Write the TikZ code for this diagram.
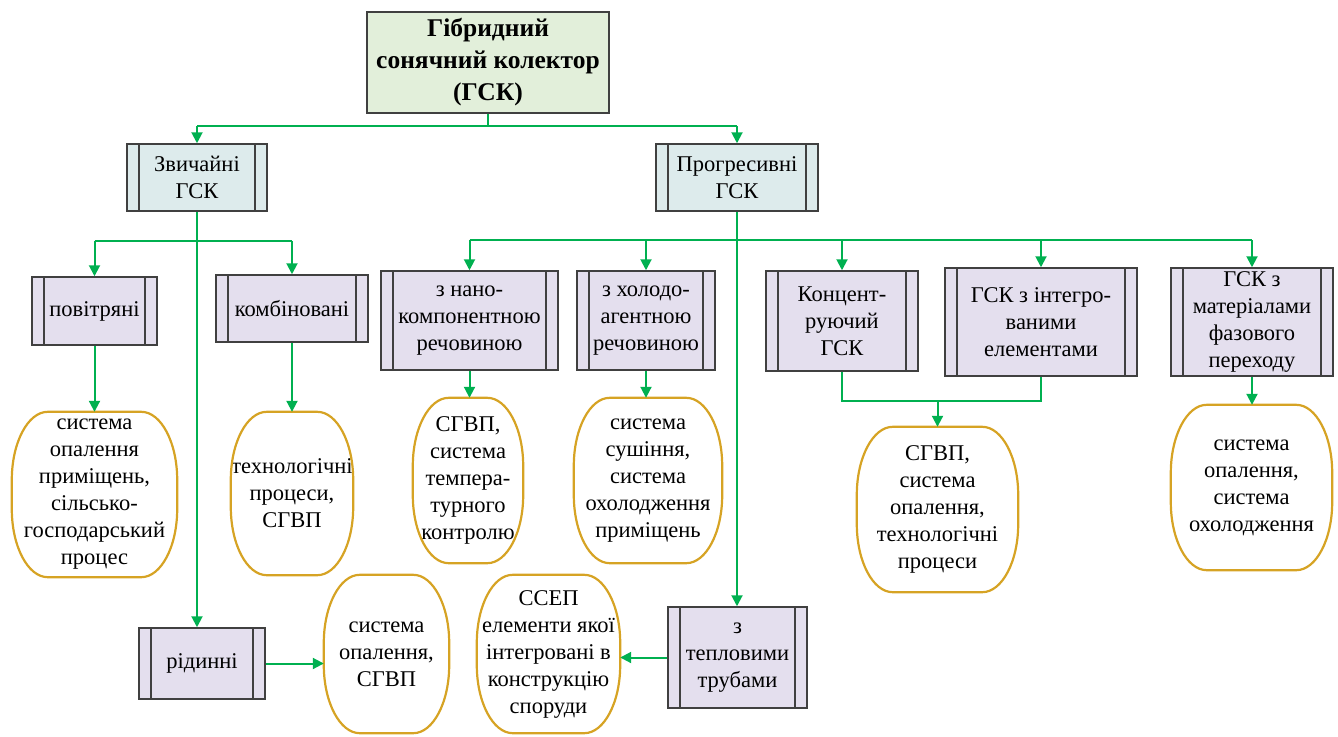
\documentclass[tikz,border=0pt]{standalone}
\usepackage{fontspec}
\setmainfont{Liberation Serif}
\usetikzlibrary{arrows.meta}
\definecolor{gline}{RGB}{0,176,80}
\definecolor{lav}{RGB}{228,223,238}
\definecolor{mainfill}{RGB}{226,239,218}
\definecolor{bluegrey}{RGB}{221,235,236}
\definecolor{bdr}{RGB}{64,64,64}
\definecolor{gold}{RGB}{214,163,36}
\tikzset{
  ln/.style={draw=gline, line width=2pt},
  arr/.style={ln, -{Triangle[length=11pt,width=11pt]}},
  boxtext/.style={font=\fontsize{22.5}{27}\selectfont, align=center, inner sep=0pt},
  box/.style={boxtext, draw=bdr, line width=1.5pt, fill=lav,
    path picture={
      \draw[bdr, line width=1.3pt] ([xshift=12pt]path picture bounding box.north west) -- ([xshift=12pt]path picture bounding box.south west);
      \draw[bdr, line width=1.3pt] ([xshift=-12pt]path picture bounding box.north east) -- ([xshift=-12pt]path picture bounding box.south east);
    }},
  gbox/.style={box, fill=bluegrey},
  mainbox/.style={draw=bdr, line width=1.5pt, fill=mainfill, align=center, inner sep=0pt,
    font=\fontsize{25.5}{32}\selectfont\bfseries},
  ovtext/.style={boxtext},
  ovline/.style={draw=gold, line width=2.2pt, line join=round}
}
\newcommand{\ovalframe}[1]{%
  \draw[ovline] ([xshift=36pt]#1.north west) -- ([xshift=-36pt]#1.north east)
    .. controls +(20pt,0) and +(0,37pt) .. ([yshift=-68pt]#1.north east)
    -- ([yshift=68pt]#1.south east)
    .. controls +(0,-37pt) and +(20pt,0) .. ([xshift=-36pt]#1.south east)
    -- ([xshift=36pt]#1.south west)
    .. controls +(-20pt,0) and +(0,-37pt) .. ([yshift=68pt]#1.south west)
    -- ([yshift=-68pt]#1.north west)
    .. controls +(0,37pt) and +(-20pt,0) .. ([xshift=36pt]#1.north west) -- cycle;}
\begin{document}
\begin{tikzpicture}[x=1pt,y=-1pt]
\useasboundingbox (0,0) rectangle (1338,736);

% top
\node[mainbox, minimum width=242pt, minimum height=101pt] (main) at (488,62.5) {Гібридний\\сонячний колектор\\(ГСК)};
\node[gbox, minimum width=140pt, minimum height=67pt] (zv) at (197,177.5) {Звичайні\\ГСК};
\node[gbox, minimum width=162pt, minimum height=67pt] (pr) at (737,177.5) {Прогресивні\\ГСК};

% second level
\node[box, minimum width=125pt, minimum height=68pt] (pov) at (94.5,311) {повітряні};
\node[box, minimum width=152pt, minimum height=67pt] (komb) at (292,308.5) {комбіновані};
\node[box, minimum width=177pt, minimum height=99pt] (nano) at (469.5,320.5) {з нано-\\компонентною\\речовиною};
\node[box, minimum width=138pt, minimum height=99pt] (xol) at (646,320.5) {з холодо-\\агентною\\речовиною};
\node[box, minimum width=152pt, minimum height=100pt] (konc) at (842,321) {Концент-\\руючий\\ГСК};
\node[box, minimum width=192pt, minimum height=108pt] (integ) at (1041,322) {ГСК з інтегро-\\ваними\\елементами};
\node[box, minimum width=162pt, minimum height=108pt] (mat) at (1252,322) {ГСК з\\матеріалами\\фазового\\переходу};
\node[box, minimum width=126pt, minimum height=71pt] (rid) at (202,663.5) {рідинні};
\node[box, minimum width=139pt, minimum height=101pt] (tep) at (737.5,657.5) {з\\тепловими\\трубами};

% ovals
\node[ovtext, minimum width=165pt, minimum height=165pt] (o1) at (94.5,494.5) {система\\опалення\\приміщень,\\сільсько-\\господарський\\процес};
\node[ovtext, minimum width=122pt, minimum height=163pt] (o2) at (292,493.5) {технологічні\\процеси,\\СГВП};
\node[ovtext, minimum width=110pt, minimum height=165pt] (o3) at (468,480.5) {СГВП,\\система\\темпера-\\турного\\контролю};
\node[ovtext, minimum width=148pt, minimum height=165pt] (o4) at (648,480.5) {система\\сушіння,\\система\\охолодження\\приміщень};
\node[ovtext, minimum width=161pt, minimum height=165pt] (o5) at (937.5,509.5) {СГВП,\\система\\опалення,\\технологічні\\процеси};
\node[ovtext, minimum width=161pt, minimum height=165pt] (o6) at (1251.5,487.5) {система\\опалення,\\система\\охолодження};
\node[ovtext, minimum width=125pt, minimum height=158pt] (o7) at (386.5,654) {система\\опалення,\\СГВП};
\node[ovtext, minimum width=143pt, minimum height=158pt] (o8) at (548.5,654) {ССЕП\\елементи якої\\інтегровані в\\конструкцію\\споруди};
\foreach \n in {o1,o2,o3,o4,o5,o6,o7,o8}{\ovalframe{\n}}

% helper levels
\coordinate (t) at (0,126);
\coordinate (z) at (0,241);
\coordinate (p) at (0,240);
\coordinate (k) at (0,401);

% connectors top
\draw[ln] (main.south) -- (main.south |- t);
\draw[ln] (zv.north |- t) -- (pr.north |- t);
\draw[arr] (zv.north |- t) -- (zv.north);
\draw[arr] (pr.north |- t) -- (pr.north);

% conventional
\draw[ln] (pov.north |- z) -- (komb.north |- z);
\draw[arr] (pov.north |- z) -- (pov.north);
\draw[arr] (komb.north |- z) -- (komb.north);
\draw[arr] (zv.south) -- (zv.south |- rid.north);
\draw[arr] (pov.south) -- (pov.south |- o1.north);
\draw[arr] (komb.south) -- (komb.south |- o2.north);
\draw[arr] (rid.east) -- (rid.east -| o7.west);

% progressive
\draw[ln] (nano.north |- p) -- (mat.north |- p);
\draw[arr] (pr.south) -- (pr.south |- tep.north);
\draw[arr] (nano.north |- p) -- (nano.north);
\draw[arr] (xol.north |- p) -- (xol.north);
\draw[arr] (konc.north |- p) -- (konc.north);
\draw[arr] (integ.north |- p) -- (integ.north);
\draw[arr] (mat.north |- p) -- (mat.north);
\draw[arr] (nano.south) -- (nano.south |- o3.north);
\draw[arr] (xol.south) -- (xol.south |- o4.north);
\draw[arr] (mat.south) -- (mat.south |- o6.north);
\draw[ln] (konc.south) -- (konc.south |- k) -- (integ.south |- k) -- (integ.south);
\draw[arr] (o5.north |- k) -- (o5.north);
\draw[arr] (tep.west) -- (tep.west -| o8.east);
\end{tikzpicture}
\end{document}
